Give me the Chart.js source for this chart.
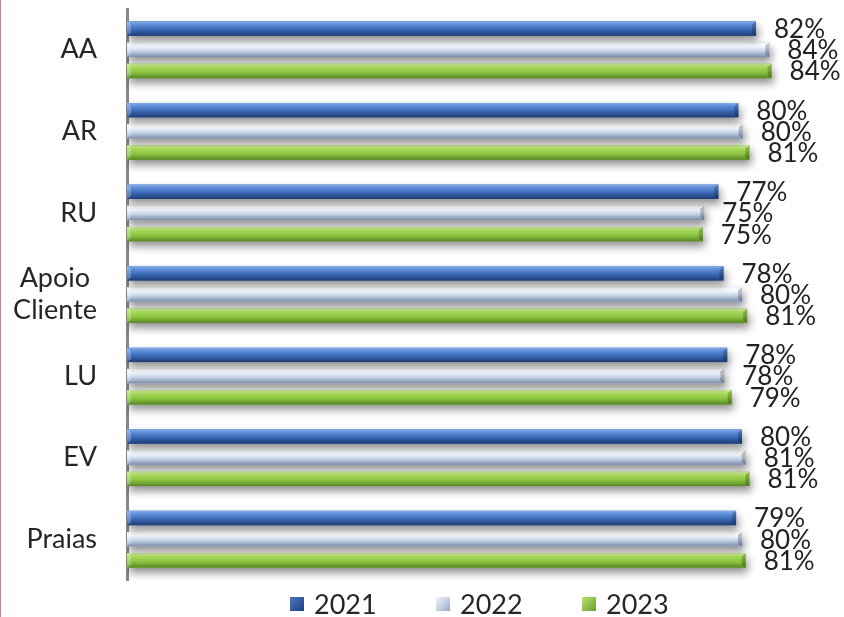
<!DOCTYPE html>
<html>
<head>
<meta charset="utf-8">
<script src="https://cdn.jsdelivr.net/npm/chart.js@4/dist/chart.umd.min.js"></script>
<style>
    html, body { margin: 0; padding: 0; background: #fff; }
    #wrap { position: relative; width: 844px; height: 617px; overflow: hidden; }
    #edge { position: absolute; left: 0; top: 0; width: 1px; height: 617px; background: #cf8585; }
    #chart-box { position: absolute; left: 0; top: 0; width: 844px; height: 590px; }
    #legend { position: absolute; left: 290px; top: 590px; height: 27px; display: flex; align-items: center;
              font-family: Lato, sans-serif; font-size: 27px; color: #262626; }
    .leg-item { display: flex; align-items: center; width: 146px; }
    .leg-box { width: 14px; height: 14px; margin-right: 10px; box-sizing: border-box; }
</style>
</head>
<body>
<div id="wrap">
    <div id="edge"></div>
    <div id="chart-box"><canvas id="barChart"></canvas></div>
    <div id="legend"></div>
</div>
<script>
// Data
const categories = ['AA', 'AR', 'RU', ['Apoio ', 'Cliente'], 'LU', 'EV', 'Praias'];
const years = ['2021', '2022', '2023'];
const values2021 = [0.821, 0.797, 0.770, 0.777, 0.782, 0.802, 0.794];
const values2022 = [0.839, 0.803, 0.751, 0.802, 0.778, 0.807, 0.802];
const values2023 = [0.842, 0.812, 0.749, 0.809, 0.788, 0.812, 0.807];

// Styles
const baseColors = ['#3a67b3', '#c4d2e8', '#8cc43f'];
const swatchGrad = [
    'linear-gradient(135deg, #4a78c4, #1f3f78)',
    'linear-gradient(135deg, #f4f8fe, #97a9c8)',
    'linear-gradient(135deg, #b6e46e, #6a9d2c)'
];
const barStops = [
    [[0, '#86aeea'], [0.25, '#5b8ad6'], [0.6, '#3866b2'], [1, '#1d3c72']],
    [[0, '#ffffff'], [0.3, '#f2f8ff'], [0.6, '#c2d0e6'], [1, '#7a8caa']],
    [[0, '#dbf9a4'], [0.3, '#a6dc55'], [0.65, '#84bc3b'], [1, '#578524']]
];

// Shadow + bevel look for each bar
const bevelPlugin = {
    id: 'bevel',
    beforeDatasetDraw(chart) {
        const ctx = chart.ctx;
        ctx.save();
        ctx.shadowColor = 'rgba(0, 0, 0, 0.45)';
        ctx.shadowBlur = 8;
        ctx.shadowOffsetX = 2;
        ctx.shadowOffsetY = 5;
    },
    afterDatasetDraw(chart, args) {
        const ctx = chart.ctx;
        ctx.restore();
        const stops = barStops[args.index];
        args.meta.data.forEach(bar => {
            const { x, y, base, height } = bar.getProps(['x', 'y', 'base', 'height'], true);
            const left = Math.min(x, base);
            const w = Math.abs(x - base);
            const top = y - height / 2;
            const g = ctx.createLinearGradient(0, top, 0, top + height);
            stops.forEach(s => g.addColorStop(s[0], s[1]));
            ctx.save();
            ctx.fillStyle = g;
            ctx.fillRect(left, top, w, height);
            // right end cap
            ctx.fillStyle = 'rgba(0, 0, 0, 0.22)';
            ctx.beginPath();
            ctx.moveTo(left + w - 4, top + 3);
            ctx.lineTo(left + w, top);
            ctx.lineTo(left + w, top + height);
            ctx.lineTo(left + w - 4, top + height - 3);
            ctx.closePath();
            ctx.fill();
            // left end highlight
            ctx.fillStyle = 'rgba(255, 255, 255, 0.25)';
            ctx.beginPath();
            ctx.moveTo(left, top);
            ctx.lineTo(left + 4, top + 3);
            ctx.lineTo(left + 4, top + height - 3);
            ctx.lineTo(left, top + height);
            ctx.closePath();
            ctx.fill();
            ctx.restore();
        });
    }
};

// Percentage labels at bar ends
const valueLabels = {
    id: 'valueLabels',
    afterDatasetsDraw(chart) {
        const ctx = chart.ctx;
        ctx.save();
        ctx.font = '26px Lato, sans-serif';
        ctx.fillStyle = '#222222';
        ctx.textAlign = 'left';
        ctx.textBaseline = 'middle';
        chart.data.datasets.forEach((ds, i) => {
            chart.getDatasetMeta(i).data.forEach((bar, j) => {
                const txt = `${Math.round(ds.data[j] * 100)}%`;
                ctx.fillText(txt, bar.x + 18, bar.y + 1);
            });
        });
        ctx.restore();
    }
};

const seriesValues = [values2021, values2022, values2023];

const chart = new Chart(document.getElementById('barChart'), {
    type: 'bar',
    data: {
        labels: categories,
        datasets: years.map((y, i) => ({
            label: y,
            data: seriesValues[i],
            backgroundColor: baseColors[i],
            borderWidth: 0,
            base: -0.03,
            categoryPercentage: 0.78,
            barPercentage: 0.68
        }))
    },
    options: {
        indexAxis: 'y',
        responsive: true,
        maintainAspectRatio: false,
        animation: false,
        layout: { padding: { top: 9, bottom: 10, left: 0, right: 0 } },
        plugins: {
            legend: { display: false },
            tooltip: { enabled: false }
        },
        scales: {
            x: {
                display: false,
                min: -0.03,
                max: 0.94
            },
            y: {
                grid: { display: true, drawOnChartArea: false, drawTicks: true, tickLength: 38, color: 'rgba(0,0,0,0)' },
                border: { display: true, color: '#878787', width: 3 },
                ticks: {
                    padding: -8,
                    color: '#262626',
                    font: { family: 'Lato, sans-serif', size: 27, lineHeight: 1.2 }
                },
                afterFit(scale) { scale.width = 127; }
            }
        }
    },
    plugins: [bevelPlugin, valueLabels]
});

// Legend
const legendEl = document.getElementById('legend');
years.forEach((y, i) => {
    const item = document.createElement('div');
    item.className = 'leg-item';
    item.innerHTML = `<span class="leg-box" style="background:${swatchGrad[i]}"></span><span>${y}</span>`;
    legendEl.appendChild(item);
});
</script>
</body>
</html>
